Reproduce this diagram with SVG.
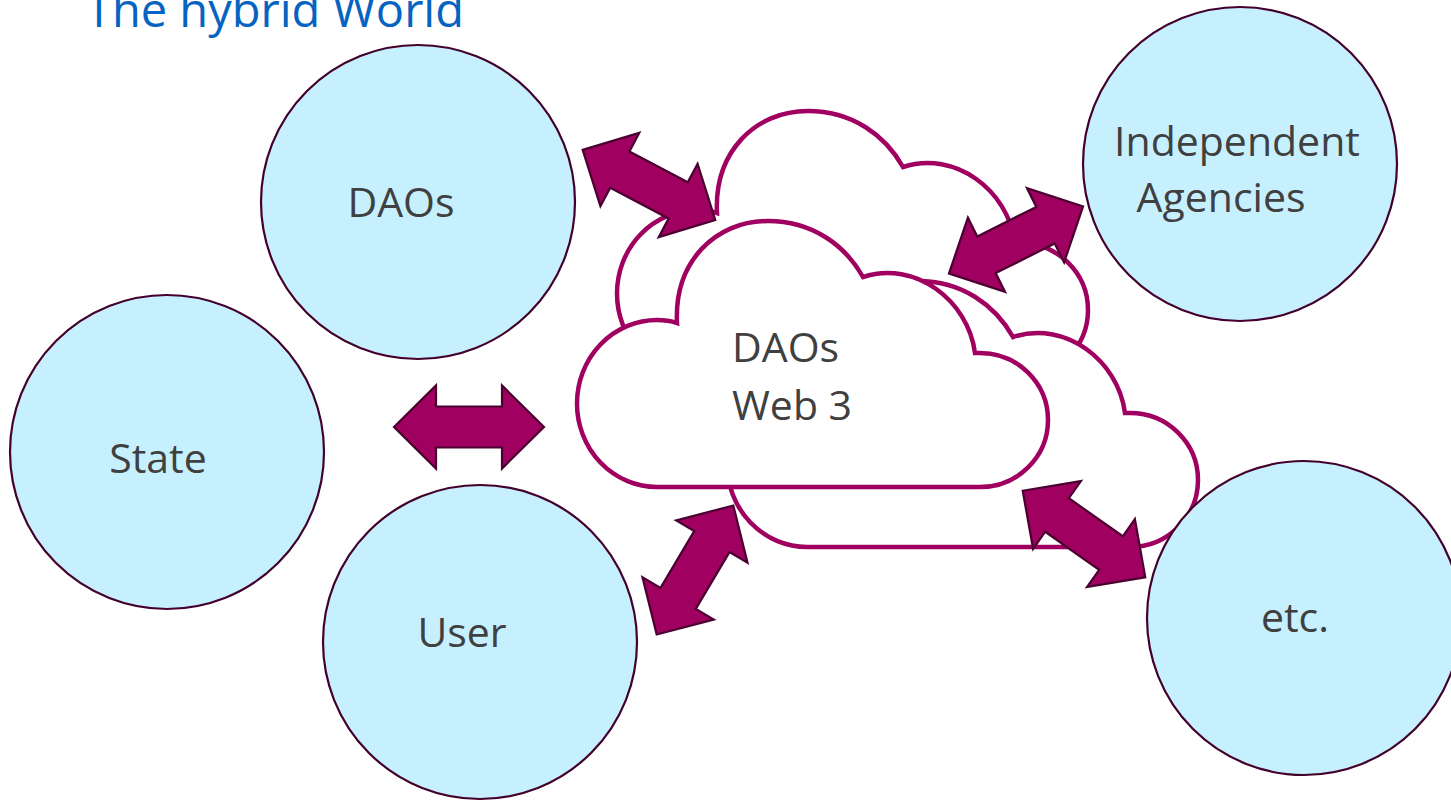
<svg xmlns="http://www.w3.org/2000/svg" xmlns:xlink="http://www.w3.org/1999/xlink" width="1451" height="801" viewBox="0 0 1451 801">
<style>
.bg{fill:#ffffff}
.cloud{fill:#ffffff;stroke:#a0005f;stroke-width:4.5;stroke-linejoin:miter}
.node{fill:#c7f0ff;stroke:#43002a;stroke-width:2.2}
.lbl{font-family:"Open Sans","Noto Sans","Liberation Sans",sans-serif;font-size:41px;fill:#404040}
.mid{text-anchor:middle}
.title{font-family:"Open Sans","Noto Sans","Liberation Sans",sans-serif;font-size:47px;fill:#0563c1}
.arrow{fill:#a00060;stroke:#4a0030;stroke-width:2.2;stroke-linejoin:miter}
</style>
<defs>
<path id="cloudShape" d="M657,487 A80,83.5 0 0 1 657,320 Q668,320 677,323 C674,262 715,221 768,221 C812,221 845,245 863,277 C915,260 968,300 975,353 L980,353 A68,67 0 1 1 980,487 Z"/>
<path id="dblArrow" d="M-75,0 L-33,-41.5 L-33,-20.5 L33,-20.5 L33,-41.5 L75,0 L33,41.5 L33,20.5 L-33,20.5 L-33,41.5 Z"/>
</defs>
<rect class="bg" x="0" y="0" width="1451" height="801"/>
<text class="title" x="86" y="27">The hybrid World</text>

<g id="cloud-back">
<use xlink:href="#cloudShape" class="cloud" transform="translate(40,-110)"/>
</g>
<g id="cloud-right">
<use xlink:href="#cloudShape" class="cloud" transform="translate(150,60)"/>
</g>
<g id="cloud-front">
<use xlink:href="#cloudShape" class="cloud"/>
<text class="lbl" x="732" y="362">DAOs</text>
<text class="lbl" x="732" y="420">Web 3</text>
</g>

<g id="node-daos">
<circle class="node" cx="418" cy="202" r="157"/>
<text class="lbl mid" x="401" y="217">DAOs</text>
</g>
<g id="node-agencies">
<circle class="node" cx="1240" cy="164" r="157"/>
<text class="lbl mid" x="1237" y="156">Independent</text>
<text class="lbl mid" x="1221" y="212">Agencies</text>
</g>
<g id="node-state">
<circle class="node" cx="167" cy="452" r="157"/>
<text class="lbl mid" x="158" y="473">State</text>
</g>
<g id="node-user">
<circle class="node" cx="480" cy="642" r="157"/>
<text class="lbl mid" x="462" y="647">User</text>
</g>
<g id="node-etc">
<circle class="node" cx="1304" cy="618" r="157"/>
<text class="lbl mid" x="1295" y="632">etc.</text>
</g>

<g id="connectors">
<use xlink:href="#dblArrow" class="arrow" transform="translate(469,427)"/>
<use xlink:href="#dblArrow" class="arrow" transform="translate(649,185) rotate(27.9)"/>
<use xlink:href="#dblArrow" class="arrow" transform="translate(1016,240) rotate(-26.6)"/>
<use xlink:href="#dblArrow" class="arrow" transform="translate(695,570) rotate(-59.3)"/>
<use xlink:href="#dblArrow" class="arrow" transform="translate(1084,534) rotate(35.2)"/>
</g>
</svg>
